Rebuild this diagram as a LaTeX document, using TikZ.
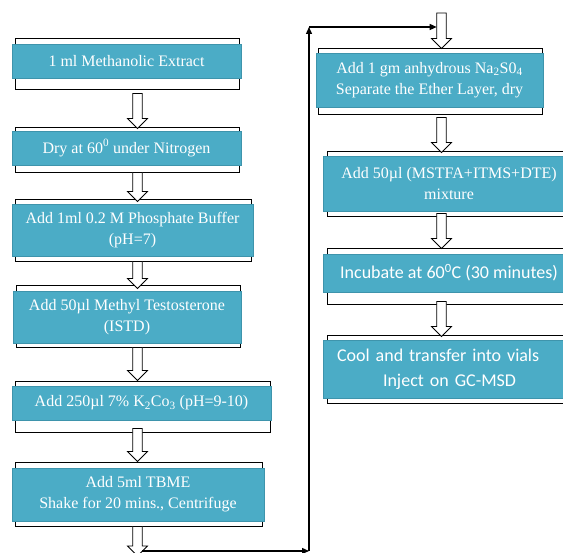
\documentclass[tikz,border=0pt]{standalone}
\usepackage{fontspec}
\setmainfont{Liberation Serif}
\newfontfamily\carl{Carlito}
\usetikzlibrary{calc,arrows.meta}
\definecolor{tealfill}{RGB}{75,172,198}
\definecolor{tealedge}{RGB}{62,148,172}
\newcommand\blkarrow[3]{%
  \draw[blk] let \p1=#2, \p2=#3 in
   ({#1pt-4.8pt},\y1) -- ({#1pt+4.8pt},\y1) -- ({#1pt+4.8pt},\y2+10pt) --
   ({#1pt+10pt},\y2+10pt) -- (#1pt,\y2) -- ({#1pt-10pt},\y2+10pt) --
   ({#1pt-4.8pt},\y2+10pt) -- cycle;}
\begin{document}
\begin{tikzpicture}[x=1pt,y=-1pt,
  outerbox/.style={draw=black,line width=0.9pt,fill=white,inner sep=0pt},
  tealbox/.style={draw=tealedge,line width=0.5pt,fill=tealfill,text=white,inner sep=0pt,
    align=center,font=\fontsize{16}{21}\selectfont},
  sansbox/.style={tealbox,font=\carl\fontsize{18}{25}\selectfont},
  blk/.style={draw=black,line width=0.8pt,fill=white},
  thinarr/.style={line width=1.3pt,-{Triangle[length=7pt,width=6pt]}}]
\clip (0,0) rectangle (563,553);
\fill[white] (0,0) rectangle (563,553);
% left column
\node[outerbox,minimum width=224pt,minimum height=51pt] (o1) at (127,63.5) {};
\node[tealbox,minimum width=229pt,minimum height=34pt] (t1) at (126.5,61) {1 ml Methanolic Extract};
\node[outerbox,minimum width=224pt,minimum height=45pt] (o2) at (127,149.5) {};
\node[tealbox,minimum width=229pt,minimum height=34pt] (t2) at (126.5,148) {Dry at 60\textsuperscript{0} under Nitrogen};
\node[outerbox,minimum width=236pt,minimum height=62pt] (o3) at (133,230) {};
\node[tealbox,minimum width=241pt,minimum height=52pt] (t3) at (132.5,230) {Add 1ml 0.2 M Phosphate Buffer\\(pH=7)};
\node[outerbox,minimum width=224pt,minimum height=62pt] (o4) at (128,316) {};
\node[tealbox,minimum width=228pt,minimum height=52pt] (t4) at (127,317) {Add 50µl Methyl Testosterone\\(ISTD)};
\node[outerbox,minimum width=255pt,minimum height=51pt] (o5) at (142.5,406.5) {};
\node[tealbox,minimum width=259pt,minimum height=34pt] (t5) at (141.5,403) {Add 250µl 7\% K\textsubscript{2}Co\textsubscript{3} (pH=9-10)};
\node[outerbox,minimum width=247pt,minimum height=64pt] (o6) at (138.5,494) {};
\node[tealbox,minimum width=252pt,minimum height=53pt] (t6) at (138,494.5) {Add 5ml TBME\\Shake for 20 mins., Centrifuge};
% right column
\node[outerbox,minimum width=224pt,minimum height=66pt] (o7) at (430,81) {};
\node[tealbox,minimum width=227pt,minimum height=54pt] (t7) at (429.5,80) {Add 1 gm anhydrous Na\textsubscript{2}S0\textsubscript{4}\\Separate the Ether Layer, dry};
\node[outerbox,minimum width=248pt,minimum height=65pt] (o8) at (451,183.5) {};
\node[tealbox,minimum width=252pt,minimum height=55pt] (t8) at (449,183.5) {Add 50µl (MSTFA+ITMS+DTE)\\mixture};
\node[outerbox,minimum width=248pt,minimum height=56pt] (o9) at (451,276) {};
\node[sansbox,minimum width=252pt,minimum height=38pt] (t9) at (449,273) {Incubate at 60\textsuperscript{0}C (30 minutes)};
\node[outerbox,minimum width=248pt,minimum height=68pt] (o10) at (451,369) {};
\node[sansbox,minimum width=252pt,minimum height=58pt,text width=224pt,inner xsep=14pt,align=left] (t10) at (449,369) {Cool and transfer into vials\\\hspace*{46pt}Inject on GC-MSD};
% block arrows, left
\blkarrow{137.5}{($(o1.south)+(0,4)$)}{($(o2.north)+(0,2)$)}
\blkarrow{137.5}{(o2.south)}{($(o3.north)+(0,3)$)}
\blkarrow{137.5}{(o3.south)}{($(o4.north)+(0,4)$)}
\blkarrow{137.5}{(o4.south)}{(o5.north)}
\blkarrow{137.5}{($(o5.south)+(0,-4)$)}{(o6.north)}
\coordinate (a6tip) at (137.5,556);
\blkarrow{137.5}{(o6.south)}{(a6tip)}
% block arrows, right
\coordinate (ra0top) at (441.5,13);
\blkarrow{441.5}{(ra0top)}{($(o7.north)+(0,1)$)}
\blkarrow{441.5}{($(o7.south)+(0,3)$)}{($(o8.north)+(0,2)$)}
\blkarrow{441.5}{($(o8.south)+(0,-3)$)}{($(o9.north)+(0,1)$)}
\blkarrow{441.5}{($(o9.south)+(0,-3)$)}{($(o10.north)+(0,2)$)}
% thin connector
\coordinate (c0) at (142.3,551);
\coordinate (c1) at (309,551);
\coordinate (c2) at (309,27);
\coordinate (c3) at (436.7,27);
\draw[thinarr] (c0) -- (c1);
\draw[thinarr] (c1) -- (c2);
\draw[thinarr] (c2) -- (c3);
\end{tikzpicture}
\end{document}
